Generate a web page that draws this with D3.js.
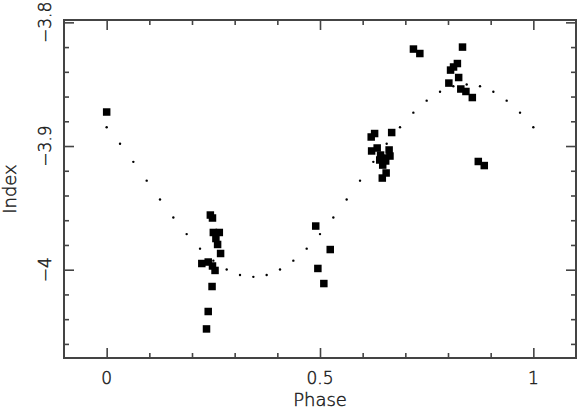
<!DOCTYPE html>
<html>
<head>
<meta charset="utf-8">
<script src="https://cdn.jsdelivr.net/npm/d3@7"></script>
<style>
  body { margin: 0; background: #fff; }
  text { font-family: "DejaVu Sans", sans-serif; font-weight: 200; fill: #111; stroke: #222; stroke-width: 0.45px; }
</style>
</head>
<body>
<div id="chart"></div>
<script>
// 1. Data ---------------------------------------------------
// observed points (filled squares)
var obsPhase = [0.000,
  0.243, 0.248, 0.250, 0.264, 0.256, 0.260, 0.267, 0.223, 0.238, 0.248, 0.254, 0.247, 0.238, 0.234,
  0.490, 0.524, 0.495, 0.509,
  0.620, 0.628, 0.668, 0.621, 0.634, 0.642, 0.651, 0.662, 0.664, 0.654, 0.640, 0.647, 0.655, 0.646,
  0.719, 0.734, 0.834, 0.822, 0.813, 0.806, 0.825, 0.802, 0.830, 0.842, 0.857, 0.871, 0.885];
var obsIndex = [-3.8725,
  -3.9558, -3.9582, -3.9699, -3.9699, -3.9748, -3.9796, -3.9869, -3.9950, -3.9938, -3.9970, -4.0006, -4.0136, -4.0338, -4.0479,
  -3.9647, -3.9837, -3.9990, -4.0112,
  -3.8927, -3.8899, -3.8891, -3.9040, -3.9016, -3.9073, -3.9097, -3.9032, -3.9081, -3.9121, -3.9113, -3.9154, -3.9218, -3.9259,
  -3.8216, -3.8252, -3.8200, -3.8333, -3.8361, -3.8386, -3.8446, -3.8491, -3.8539, -3.8559, -3.8608, -3.9125, -3.9158];

// model curve (dotted)
var modelPhase = [0.0000, 0.0313, 0.0625, 0.0938, 0.1250, 0.1563, 0.1875, 0.2188, 0.2500, 0.2813, 0.3125,
  0.3438, 0.3750, 0.4063, 0.4375, 0.4688, 0.5000, 0.5313, 0.5625, 0.5938, 0.6250, 0.6563,
  0.6875, 0.7188, 0.7500, 0.7813, 0.8125, 0.8438, 0.8750, 0.9063, 0.9375, 0.9688, 1.0000];
var modelIndex = [-3.8848, -3.8982, -3.9128, -3.9280, -3.9432, -3.9578, -3.9712, -3.9830, -3.9927, -3.9999, -4.0043,
  -4.0058, -4.0043, -3.9999, -3.9927, -3.9830, -3.9712, -3.9578, -3.9432, -3.9280, -3.9128, -3.8982,
  -3.8848, -3.8730, -3.8633, -3.8561, -3.8517, -3.8502, -3.8517, -3.8561, -3.8633, -3.8730, -3.8848];

// tick values
var xMinorTicks = [0.1, 0.2, 0.3, 0.4, 0.6, 0.7, 0.8, 0.9];
var xMajorTicks = [0, 0.5, 1];
var xTickLabels = ["0", "0.5", "1"];
var yMinorTicks = [-3.82, -3.84, -3.86, -3.88, -3.92, -3.94, -3.96, -3.98, -4.02, -4.04, -4.06];
var yMajorTicks = [-3.8, -3.9, -4];
var yTickLabels = ["\u22123.8", "\u22123.9", "\u22124"];

// 2. SVG setup -----------------------------------------------
var svgWidth = 577;
var svgHeight = 409;
var margin = { top: 20, right: 1, bottom: 51, left: 64 };
var width = svgWidth - margin.left - margin.right;
var height = svgHeight - margin.top - margin.bottom;

var svg = d3.select("#chart")
  .append("svg")
  .attr("width", svgWidth)
  .attr("height", svgHeight);

var chartGroup = svg.append("g")
  .attr("transform", `translate(${margin.left}, ${margin.top})`);

// 3. Scales --------------------------------------------------
var xScale = d3.scaleLinear()
  .domain([-0.1, 1.1])
  .range([0, width]);

var yScale = d3.scaleLinear()
  .domain([-4.0714, -3.7981])
  .range([height, 0]);

// 4. Ticks on all four sides, pointing inward -----------------
var axisColor = "#444";
function styleAxis(g) {
  g.select(".domain").remove();
  g.selectAll(".tick line").attr("stroke", axisColor).attr("stroke-width", 1.6);
  g.selectAll(".tick text").remove();
}

chartGroup.append("g").attr("transform", `translate(0, ${height})`)
  .call(d3.axisBottom(xScale).tickValues(xMinorTicks).tickSize(-5)).call(styleAxis);
chartGroup.append("g").attr("transform", `translate(0, ${height})`)
  .call(d3.axisBottom(xScale).tickValues(xMajorTicks).tickSize(-10)).call(styleAxis);
chartGroup.append("g")
  .call(d3.axisTop(xScale).tickValues(xMinorTicks).tickSize(-5)).call(styleAxis);
chartGroup.append("g")
  .call(d3.axisTop(xScale).tickValues(xMajorTicks).tickSize(-10)).call(styleAxis);

chartGroup.append("g")
  .call(d3.axisLeft(yScale).tickValues(yMinorTicks).tickSize(-5)).call(styleAxis);
chartGroup.append("g")
  .call(d3.axisLeft(yScale).tickValues(yMajorTicks).tickSize(-10)).call(styleAxis);
chartGroup.append("g").attr("transform", `translate(${width}, 0)`)
  .call(d3.axisRight(yScale).tickValues(yMinorTicks).tickSize(-5)).call(styleAxis);
chartGroup.append("g").attr("transform", `translate(${width}, 0)`)
  .call(d3.axisRight(yScale).tickValues(yMajorTicks).tickSize(-10)).call(styleAxis);

// frame
chartGroup.append("rect")
  .attr("width", width)
  .attr("height", height)
  .attr("fill", "none")
  .attr("stroke", axisColor)
  .attr("stroke-width", 2);

// tick labels
chartGroup.selectAll(".xTickLabel").data(xMajorTicks).enter().append("text")
  .classed("xTickLabel", true)
  .attr("x", d => xScale(d))
  .attr("y", height + 25.5)
  .style("text-anchor", "middle")
  .style("font-size", "17px")
  .text((d, i) => xTickLabels[i]);

chartGroup.selectAll(".yTickLabel").data(yMajorTicks).enter().append("text")
  .classed("yTickLabel", true)
  .attr("transform", d => `translate(-13, ${yScale(d)}) rotate(-90)`)
  .style("text-anchor", "middle")
  .style("font-size", "17px")
  .text((d, i) => yTickLabels[i]);

// 5. Model curve as dots ------------------------------------
chartGroup.append("g").selectAll(".modelDot").data(modelPhase).enter().append("circle")
  .classed("modelDot", true)
  .attr("cx", d => xScale(d))
  .attr("cy", (d, i) => yScale(modelIndex[i]))
  .attr("r", 1.2)
  .attr("fill", "#000");

// 6. Observed points as squares -----------------------------
var sq = 7.5;
chartGroup.append("g").selectAll(".obs").data(obsPhase).enter().append("rect")
  .classed("obs", true)
  .attr("x", d => xScale(d) - sq / 2)
  .attr("y", (d, i) => yScale(obsIndex[i]) - sq / 2)
  .attr("width", sq)
  .attr("height", sq)
  .attr("fill", "#000");

// 7. Axis titles ---------------------------------------------
svg.append("text")
  .attr("x", margin.left + width / 2)
  .attr("y", 406)
  .style("text-anchor", "middle")
  .style("font-size", "18px")
  .text("Phase");

svg.append("text")
  .attr("transform", `translate(16, ${margin.top + height / 2}) rotate(-90)`)
  .style("text-anchor", "middle")
  .style("font-size", "18px")
  .text("Index");
</script>
</body>
</html>
